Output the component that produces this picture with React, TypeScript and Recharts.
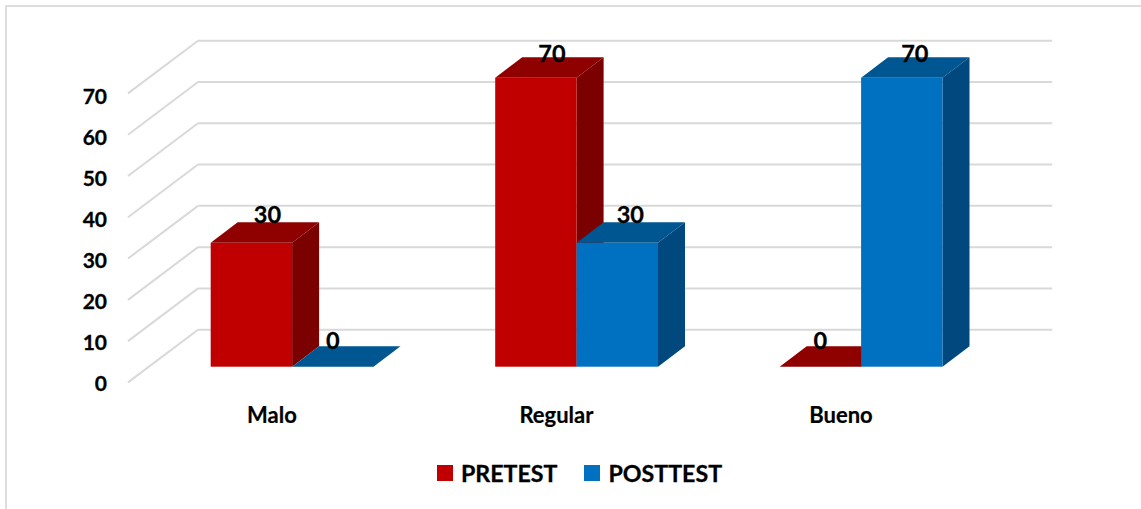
import { BarChart, Bar, XAxis, YAxis, CartesianGrid, LabelList, Legend } from "recharts";

const categorias = ["Malo", "Regular", "Bueno"];
const pretest = [30, 70, 0];
const posttest = [0, 30, 70];
const ticksY = [0, 10, 20, 30, 40, 50, 60, 70];

const datos = categorias.map((c, i) => ({ categoria: c, PRETEST: pretest[i], POSTTEST: posttest[i] }));

const FUENTE = "Lato, 'Open Sans', sans-serif";
const ROJO = { frente: "#C00000", arriba: "#8F0000", lado: "#7B0000" };
const AZUL = { frente: "#0070C0", arriba: "#005691", lado: "#00487D" };

// profundidad del efecto 3D
const DX = 27;
const DY = 20.5;

// en el original las etiquetas no quedan a la misma altura
const alturaEtiqueta: Record<number, number> = { 0: 26.7, 30: 29, 70: 24.5 };

function Barra3D(props: any) {
  const { x, y, width, height, colores } = props;
  const base = y + height;
  return (
    <g>
      <polygon
        points={`${x},${y} ${x + DX},${y - DY} ${x + width + DX},${y - DY} ${x + width},${y}`}
        fill={colores.arriba}
      />
      {height > 0 && (
        <polygon
          points={`${x + width},${y} ${x + width + DX},${y - DY} ${x + width + DX},${base - DY} ${x + width},${base}`}
          fill={colores.lado}
        />
      )}
      {height > 0 && <rect x={x} y={y} width={width} height={height} fill={colores.frente} />}
    </g>
  );
}

function Etiqueta(props: any) {
  const { x, y, width, value, dx } = props;
  const desplazamiento = value > 0 ? dx : 0;
  return (
    <text
      x={x + width / 2 + desplazamiento}
      y={y - alturaEtiqueta[value]}
      textAnchor="middle"
      dominantBaseline="central"
      fontFamily={FUENTE}
      fontWeight={700}
      fontSize={23.5}
      fill="#000"
      stroke="#000"
      strokeWidth={0.3}
    >
      {value}
    </text>
  );
}

function LineaFondo(props: any) {
  const { y1, x2 } = props;
  const xFondo = 198;
  return (
    <g>
      <line x1={128} y1={y1 + 15.7} x2={xFondo} y2={y1 - 37} stroke="#D9D9D9" strokeWidth={2} />
      <line x1={xFondo} y1={y1 - 37} x2={x2 + 49} y2={y1 - 37} stroke="#D9D9D9" strokeWidth={2} />
    </g>
  );
}

function TickY(props: any) {
  const { y, payload } = props;
  return (
    <text
      x={107}
      y={382 - (366.7 - y) * 0.99}
      textAnchor="end"
      dominantBaseline="central"
      fontFamily={FUENTE}
      fontWeight={700}
      fontSize={21}
      fill="#000"
      stroke="#000"
      strokeWidth={0.3}
    >
      {payload.value}
    </text>
  );
}

function TickX(props: any) {
  const { x, payload } = props;
  return (
    <text
      x={x - 20}
      y={414.5}
      textAnchor="middle"
      dominantBaseline="central"
      fontFamily={FUENTE}
      fontWeight={700}
      fontSize={22}
      fill="#000"
      stroke="#000"
      strokeWidth={0.2}
    >
      {payload.value}
    </text>
  );
}

function Leyenda(props: any) {
  const items = ["PRETEST", "POSTTEST"].map(n => props.payload.find((p: any) => p.value === n)).filter(Boolean);
  return (
    <div style={{ display: "flex", alignItems: "center", height: 32 }}>
      {items.map((it: any, i: number) => (
        <div key={it.value} style={{ display: "flex", alignItems: "center", marginRight: i === 0 ? 27 : 0 }}>
          <span style={{ width: 16, height: 16, background: it.color, marginRight: 8 }} />
          <span style={{ color: "#000", fontFamily: FUENTE, fontWeight: 700, fontSize: 23.2, WebkitTextStroke: "0.3px #000" }}>{it.value}</span>
        </div>
      ))}
    </div>
  );
}

export default function App() {
  return (
    <div style={{ position: "absolute", left: 0, top: 0, width: 1141, height: 509, background: "#fff", overflow: "hidden" }}>
      <div style={{ position: "absolute", left: 5, top: 5, width: 1136, height: 510, borderLeft: "2.5px solid #DDDDDD", borderTop: "2px solid #DDDDDD" }} />
      <BarChart
        width={1141}
        height={509}
        data={datos}
        barSize={81.4}
        barGap={0}
        margin={{ top: 77.7, right: 137.8, left: 99.7, bottom: 102.3 }}
        style={{ position: "absolute", left: 0, top: 0 }}
      >
        <CartesianGrid vertical={false} horizontal={(p: any) => <LineaFondo key={p.key ?? p.index} {...p} />} />
        <XAxis dataKey="categoria" height={40} axisLine={false} tickLine={false} tick={<TickX />} interval={0} />
        <YAxis domain={[0, 70]} ticks={ticksY} width={50} axisLine={false} tickLine={false} tick={<TickY />} />
        <Legend
          layout="horizontal"
          align="center"
          verticalAlign="middle"
          content={<Leyenda />}
          wrapperStyle={{ left: 437, top: 457, width: 320 }}
        />
        <Bar dataKey="PRETEST" fill={ROJO.frente} isAnimationActive={false} shape={<Barra3D colores={ROJO} />}>
          <LabelList dataKey="PRETEST" content={<Etiqueta dx={16} />} />
        </Bar>
        <Bar dataKey="POSTTEST" fill={AZUL.frente} isAnimationActive={false} shape={<Barra3D colores={AZUL} />}>
          <LabelList dataKey="POSTTEST" content={<Etiqueta dx={13} />} />
        </Bar>
      </BarChart>
    </div>
  );
}
